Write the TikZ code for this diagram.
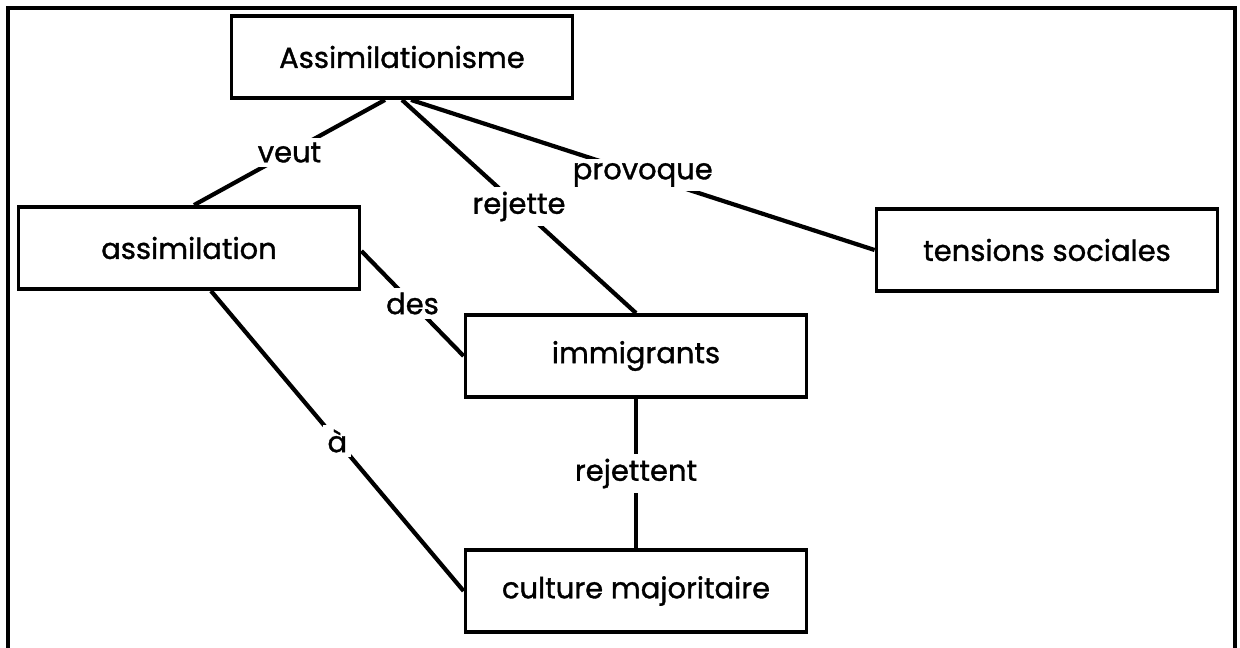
\documentclass[tikz,border=0pt]{standalone}
\usepackage{fontspec}
\setmainfont{Poppins}[FakeBold=1.2]
\begin{document}
\begin{tikzpicture}[x=0.02cm, y=-0.02cm,
    box/.style={draw, line width=2.2pt, minimum width=6.82cm, minimum height=1.64cm,
      inner sep=0pt, font=\fontsize{16.5}{19}\selectfont},
    lbl/.style={midway, fill=white, inner sep=2.5pt, font=\fontsize{16.5}{19}\selectfont},
    link/.style={line width=2.4pt}]
    \useasboundingbox (0,0) rectangle (1240,648);

    % Outer frame (open at the bottom)
    \draw[line width=1.8pt] (8,648) -- (8,8) -- (1235,8) -- (1235,648);

    % Concepts
    \node[box] (assimme) at (402,57) {Assimilationisme};
    \node[box] (assim) at (189,248) {assimilation};
    \node[box] (tens) at (1047,250) {tensions sociales};
    \node[box] (immig) at (636,356) {immigrants};
    \node[box] (cult) at (636,591) {culture majoritaire};

    % Links with their words
    \draw[link] ([xshift=-0.34cm]assimme.south) -- ([xshift=0.1cm]assim.north) node[lbl] {veut};
    \draw[link] (assimme.south) -- (immig.north) node[lbl] {rejette};
    \draw[link] ([xshift=0.18cm]assimme.south) -- (tens.west) node[lbl] {provoque};
    \draw[link] ([yshift=-0.06cm]assim.east) -- (immig.west) node[lbl] {des};
    \draw[link] ([xshift=0.44cm]assim.south) -- (cult.west) node[lbl] {à};
    \draw[link] (immig.south) -- (cult.north) node[lbl] {rejettent};
\end{tikzpicture}
\end{document}
